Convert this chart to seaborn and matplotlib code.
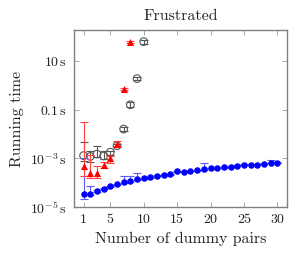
import numpy as np
import pandas as pd
import seaborn as sns
import matplotlib
matplotlib.use("Agg")
import matplotlib.pyplot as plt
from matplotlib.ticker import FixedLocator, NullLocator

# ---- data ----
blue_x = list(range(1, 31))
blue_y = [3.5e-5, 3.3e-5, 4.5e-5, 5.6e-5, 7.0e-5, 8.7e-5, 1.1e-4, 1.2e-4, 1.4e-4, 1.5e-4,
          1.65e-4, 1.9e-4, 2.0e-4, 2.2e-4, 2.9e-4, 2.75e-4, 3.0e-4, 3.2e-4, 3.6e-4, 4.0e-4,
          4.0e-4, 4.3e-4, 4.6e-4, 5.0e-4, 5.5e-4, 5.5e-4, 5.5e-4, 6.0e-4, 6.7e-4, 6.7e-4]
blue_lo = [2.2e-5, 3.0e-5, 4.2e-5, 5.3e-5, 6.6e-5, 8.2e-5, 1.0e-4, 1.1e-4, 1.3e-4, 1.45e-4,
           1.6e-4, 1.85e-4, 1.95e-4, 2.1e-4, 2.8e-4, 2.65e-4, 2.9e-4, 3.1e-4, 3.4e-4, 3.9e-4,
           3.9e-4, 4.2e-4, 4.5e-4, 4.9e-4, 5.3e-4, 5.3e-4, 5.3e-4, 5.8e-4, 6.4e-4, 6.5e-4]
blue_hi = [1.0e-3, 7.2e-5, 4.8e-5, 5.9e-5, 7.4e-5, 9.2e-5, 1.95e-4, 1.95e-4, 2.5e-4, 1.6e-4,
           1.75e-4, 2.0e-4, 2.1e-4, 2.3e-4, 3.0e-4, 2.9e-4, 3.1e-4, 3.4e-4, 6.5e-4, 4.2e-4,
           4.2e-4, 4.5e-4, 4.8e-4, 5.2e-4, 5.8e-4, 5.8e-4, 5.8e-4, 6.3e-4, 8.9e-4, 7.0e-4]

red_x = [1, 2, 3, 4, 5, 6, 7, 8]
red_y = [4.9e-4, 2.6e-4, 2.6e-4, 5.3e-4, 1.0e-3, 4.0e-3, 0.7, 61]
red_lo = [1.9e-4, 1.5e-4, 1.5e-4, 4.0e-4, 6.7e-4, 3.3e-3, 0.65, 57]
red_hi = [3.0e-2, 1.4e-3, 4.9e-4, 6.9e-4, 1.26e-3, 5.0e-3, 0.75, 65]

gray_x = [1, 2, 3, 4, 5, 6, 7, 8, 9, 10]
gray_y = [1.3e-3, 1.2e-3, 1.5e-3, 1.25e-3, 1.8e-3, 3.3e-3, 1.6e-2, 0.16, 1.9, 63]
gray_lo = [8.0e-4, 7.0e-4, 1.1e-3, 9.0e-4, 1.4e-3, 2.8e-3, 1.3e-2, 0.13, 1.6, 52]
gray_hi = [4.5e-3, 2.0e-3, 3.2e-3, 2.0e-3, 2.1e-3, 4.0e-3, 2.0e-2, 0.2, 2.3, 76]

y_ticks = [1e-5, 1e-3, 1e-1, 10]
y_ticklabels = [r"$10^{-5}\,\mathrm{s}$", r"$10^{-3}\,\mathrm{s}$",
                r"$0.1\,\mathrm{s}$", r"$10\,\mathrm{s}$"]
x_ticks = [1, 5, 10, 15, 20, 25, 30]

# ---- style ----
sns.set_style("ticks")
plt.rcParams["font.family"] = ["cmr10", "DejaVu Serif"]
plt.rcParams["mathtext.fontset"] = "cm"
plt.rcParams["axes.formatter.use_mathtext"] = True

fig = plt.figure(figsize=(2.92, 2.54), dpi=100)
ax = fig.add_axes([0.253, 0.185, 0.73, 0.697])

def add(ax, x, y, lo, hi, color, ecolor, marker, size, face, zorder):
    df = pd.DataFrame({"x": x, "y": y})
    yerr = np.array([np.array(y) - np.array(lo), np.array(hi) - np.array(y)])
    ax.errorbar(df["x"], df["y"], yerr=yerr, fmt="none", ecolor=ecolor,
                elinewidth=0.8, capsize=2.8, capthick=0.8, zorder=zorder)
    sns.scatterplot(data=df, x="x", y="y", ax=ax, marker=marker, s=size,
                    color=face, edgecolor=color, linewidth=0.8 if face == "none" else 0,
                    zorder=zorder + 0.5, legend=False)

add(ax, blue_x, blue_y, blue_lo, blue_hi, "#0000ff", "#5a5aff", "o", 22, "#0000ff", 3)
add(ax, gray_x, gray_y, gray_lo, gray_hi, "#555555", "#555555", "o", 30, "none", 2)
add(ax, red_x, red_y, red_lo, red_hi, "#ff0000", "#ff4040", "^", 26, "#ff0000", 4)

ax.set_yscale("log")
ax.set_xlim(-0.45, 31.45)
ax.set_ylim(1e-5, 190)
ax.yaxis.set_major_locator(FixedLocator(y_ticks))
ax.yaxis.set_minor_locator(NullLocator())
ax.set_yticklabels(y_ticklabels)
ax.set_xticks(x_ticks)
ax.set_xticklabels([str(v) for v in x_ticks])

for s in ax.spines.values():
    s.set_color("#808080")
    s.set_linewidth(1.0)
ax.tick_params(axis="both", which="major", direction="in", length=3.5, width=0.6,
               color="#9a9a9a", top=True, right=True, labelsize=10, pad=5,
               labelcolor="#222222")
ax.set_xlabel("Number of dummy pairs", fontsize=11.5, labelpad=4, color="#222222")
ax.set_ylabel("Running time", fontsize=11.5, labelpad=4, color="#222222")
ax.set_title("Frustrated", fontsize=11.5, pad=7, color="#222222")

fig.savefig("out.png", dpi=100)
